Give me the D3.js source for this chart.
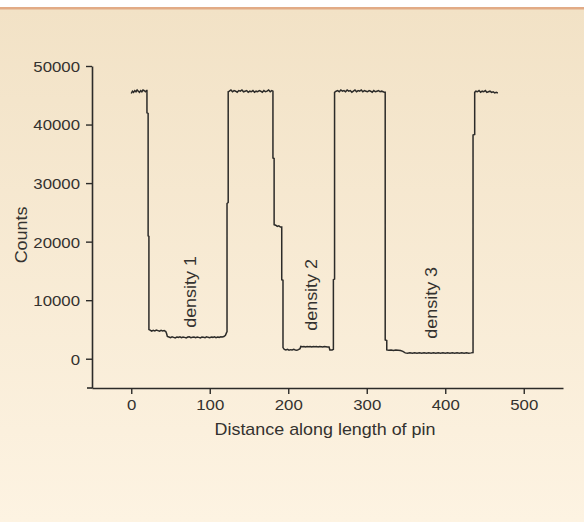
<!DOCTYPE html>
<html>
<head>
<meta charset="UTF-8">
<script src="https://d3js.org/d3.v7.min.js"></script>
<style>
  body { margin: 0; background: #fff; }
  svg { display: block; }
</style>
</head>
<body>
<svg width="584" height="522"></svg>
<script>
// trace: distance along pin vs counts
var distance = [0,1.5,3,4.5,6,7.5,9,10.5,12,13.5,15,16.5,18,19.5,
  20,20,21.5,21.5,22.5,22.5,
  24,26,28,30,32,34,36,38,40,42,44,45,46,48,50,52,54,56,58,60,62,64,66,68,70,72,74,76,78,80,
  82,84,86,88,90,92,94,96,98,100,102,104,106,108,110,112,114,116,118,120,121.5,
  122,122,123.5,123.5,
  125,127,129,131,133,135,137,139,141,143,145,147,149,151,153,155,157,159,161,163,165,167,169,171,173,175,177,179,180.5,
  180.5,182,182,184,186,188,190,191.7,191.7,193.3,193.3,
  195,197,199,201,203,205,207,209,211,213,215,216,218,220,222,224,226,228,230,232,234,236,238,240,242,244,246,248,250,252,253,256,257.5,
  257.5,259,259,
  261,263,265,267,269,271,273,275,277,279,281,283,285,287,289,291,293,295,297,299,301,303,305,307,309,311,313,315,317,319,321,322.5,
  323.5,323.5,325.5,325.5,
  328,331,334,337,340,343,346,349,352,355,358,361,364,367,370,373,376,379,382,385,388,391,394,397,400,403,406,409,412,415,418,421,424,427,430,433,435.4,
  435.4,437.5,437.5,
  439,441,443,445,447,449,451,453,455,457,459,461,463,465,467];
var counts = [45300,45700,45500,45800,45600,45900,45700,45500,45800,45600,45900,45800,45600,45800,
  45800,42000,41900,21000,20900,5000,
  4900,4700,4850,4750,4900,4800,4700,4850,4750,4800,4650,4300,3800,3700,3600,3750,3650,3550,3700,3650,3750,3600,3700,3650,3550,3700,3750,3600,3650,3700,
  3600,3700,3650,3550,3700,3650,3600,3750,3650,3600,3700,3650,3750,3600,3700,3650,3750,3700,3800,4000,4500,
  4600,26500,26700,45600,
  45700,45900,45600,45800,45700,45500,45800,45700,45900,45600,45700,45800,45500,45700,45600,45800,45500,45700,45600,45800,45700,45500,45800,45600,45700,45900,45600,45800,45700,
  34300,34200,22900,22800,22600,22700,22500,22500,13500,13400,1900,
  1600,1500,1600,1450,1550,1500,1600,1500,1450,1550,1700,2100,2050,2100,2000,2100,2050,2100,2000,2100,2050,2100,2000,2100,2050,2000,2100,2050,2000,2000,1500,1500,1600,
  13500,13600,45500,
  45700,45800,45600,45900,45700,45800,45600,45900,45700,45800,45500,45700,45900,45600,45800,45700,45900,45600,45800,45700,45600,45800,45700,45500,45800,45600,45700,45800,45600,45700,45600,45500,
  45500,3200,3100,1500,
  1450,1500,1400,1500,1450,1400,1250,1000,950,1000,950,1000,950,1000,950,1000,950,1000,950,1000,950,1000,950,1000,950,1000,950,1000,950,1000,950,1000,950,1000,950,1000,1050,
  38200,38300,45500,
  45700,45600,45800,45500,45700,45600,45800,45500,45600,45700,45500,45600,45400,45500,45400];

var xMajor = [0,100,200,300,400,500];
var xMinor = [-50,50,150,250,350,450,550];
var yMajor = [0,10000,20000,30000,40000,50000];
var yMinor = [-5000,5000,15000,25000,35000,45000];

var labels = ["density 1","density 2","density 3"];
var labelX = [83,237,390];
var labelY = [11400,10900,9550];

var svg = d3.select("svg");
var W = 584, H = 522;
var stretch = 1.12;   // text in the picture is wider than plain Arial
var font = "'Liberation Sans', Arial, Helvetica, sans-serif";
var ink = "#2c2b29";
var txt = "#34322f";

// background
var defs = svg.append("defs");
var grad = defs.append("linearGradient").attr("id","bg").attr("x1",0).attr("y1",0).attr("x2",0).attr("y2",1);
grad.append("stop").attr("offset","0%").attr("stop-color","#f2e2c6");
grad.append("stop").attr("offset","100%").attr("stop-color","#fdf3e2");
svg.append("rect").attr("x",0).attr("y",0).attr("width",W).attr("height",H).attr("fill","#fff");
svg.append("rect").attr("x",0).attr("y",9).attr("width",W).attr("height",H-9).attr("fill","url(#bg)");
svg.append("rect").attr("x",0).attr("y",7).attr("width",W).attr("height",2.5).attr("fill","#e2ab86");

var x = d3.scaleLinear().domain([-50,550]).range([92,563]);
var y = d3.scaleLinear().domain([-5000,50000]).range([388,66]);

// y axis
var gy = svg.append("g").attr("transform","translate(92,0)");
gy.call(d3.axisLeft(y).tickValues(yMinor).tickSize(3.5).tickFormat(""));
gy.call(d3.axisLeft(y).tickValues(yMajor).tickSize(6).tickSizeOuter(0).tickFormat(d3.format("d")));
gy.selectAll("text").attr("x",-10.7).attr("dy","0.36em")
  .attr("transform","scale(" + stretch + ",1)");

// x axis
var gx = svg.append("g").attr("transform","translate(0,388)");
gx.call(d3.axisBottom(x).tickValues(xMinor).tickSize(3.5).tickFormat(""));
gx.call(d3.axisBottom(x).tickValues(xMajor).tickSize(6).tickSizeOuter(0).tickFormat(d3.format("d")));
gx.selectAll("text").attr("y",11).attr("transform","scale(" + stretch + ",1)");

svg.selectAll(".domain").attr("stroke",ink).attr("stroke-width",1.6);
svg.selectAll(".tick line").attr("stroke",ink).attr("stroke-width",1.4);
svg.selectAll(".tick text").attr("fill",txt).style("font-family",font).style("font-size","15px");

// the x axis line sticks out a little past the y axis
svg.append("line").attr("x1",87).attr("x2",92).attr("y1",388).attr("y2",388)
  .attr("stroke",ink).attr("stroke-width",1.6);

// trace
var pts = distance.map(function(d,i){ return [d, counts[i]]; });
var line = d3.line().x(function(d){ return x(d[0]); }).y(function(d){ return y(d[1]); });
svg.append("path").datum(pts).attr("d",line)
  .attr("fill","none").attr("stroke",ink).attr("stroke-width",1.5)
  .attr("stroke-linejoin","miter");

// density labels
svg.selectAll(".dlab").data(labels).enter().append("text")
  .attr("class","dlab")
  .attr("transform",function(d,i){
    return "translate(" + x(labelX[i]) + "," + y(labelY[i]) + ") rotate(-90) scale(" + stretch + ",1)";
  })
  .attr("text-anchor","middle")
  .style("font-family",font).style("font-size","16px").attr("fill",txt)
  .text(function(d){ return d; });

// axis titles
svg.append("text")
  .attr("transform","translate(325,435) scale(" + stretch + ",1)")
  .attr("text-anchor","middle")
  .style("font-family",font).style("font-size","16px").attr("fill",txt)
  .text("Distance along length of pin");

svg.append("text")
  .attr("transform","translate(27,235) rotate(-90) scale(" + stretch + ",1)")
  .attr("text-anchor","middle")
  .style("font-family",font).style("font-size","16px").attr("fill",txt)
  .text("Counts");
</script>
</body>
</html>
